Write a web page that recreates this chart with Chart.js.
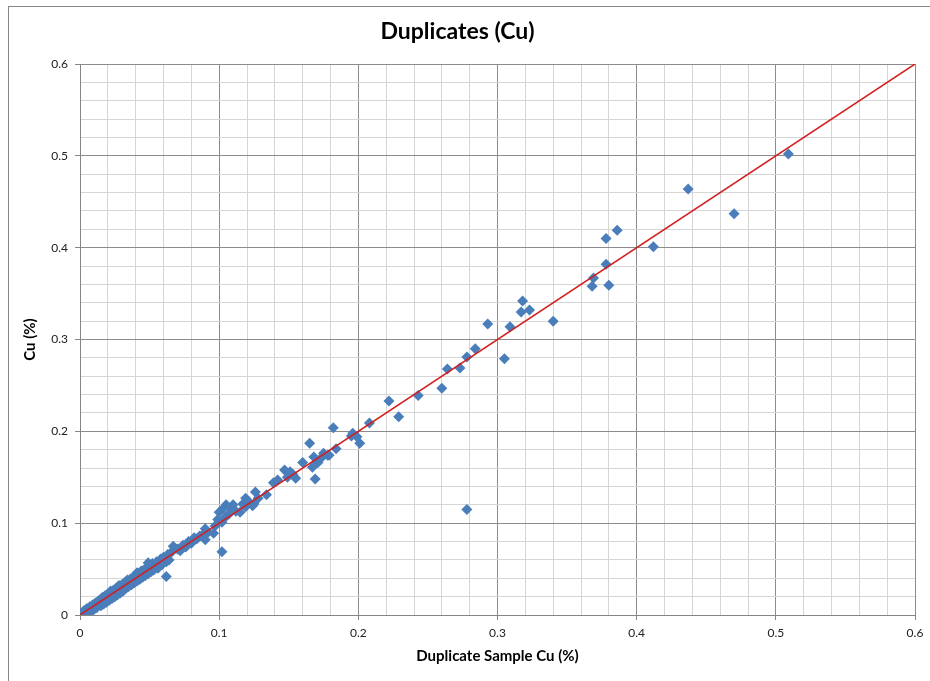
<!DOCTYPE html>
<html lang="en">

<head>
    <meta charset="UTF-8">
    <title>Duplicates (Cu)</title>
    <script src="https://cdn.jsdelivr.net/npm/chart.js@4"></script>
    <style>
        body {
            margin: 0;
            padding: 0;
            background-color: #fff;
        }

        .wrap {
            position: relative;
            width: 930px;
            height: 681px;
            overflow: hidden;
        }

        .frame {
            position: absolute;
            left: 8px;
            top: 6px;
            width: 1000px;
            height: 1000px;
            border-left: 1px solid #868686;
            border-top: 1px solid #868686;
        }

        canvas {
            position: absolute;
            left: 0;
            top: 0;
        }
    </style>
</head>

<body>
    <div class="wrap">
        <div class="frame"></div>
        <canvas id="dupChart" width="930" height="681"></canvas>
    </div>

    <script>
        // Duplicate sample Cu (%) on x, original Cu (%) on y
        const dupCu = [
            0.000, 0.002, 0.003, 0.004, 0.005, 0.006, 0.007, 0.008, 0.009, 0.010,
            0.011, 0.012, 0.013, 0.014, 0.015, 0.016, 0.017, 0.018, 0.019, 0.020,
            0.021, 0.022, 0.023, 0.024, 0.025, 0.026, 0.027, 0.028, 0.029, 0.030,
            0.031, 0.032, 0.033, 0.034, 0.035, 0.036, 0.037, 0.038, 0.039, 0.040,
            0.041, 0.042, 0.043, 0.044, 0.045, 0.046, 0.047, 0.048, 0.049, 0.050,
            0.051, 0.052, 0.053, 0.054, 0.055, 0.056, 0.058, 0.059, 0.060, 0.062,
            0.063, 0.064, 0.066, 0.067, 0.041, 0.049, 0.045, 0.037, 0.062,
            0.070, 0.072, 0.074, 0.076, 0.078, 0.080, 0.082, 0.084, 0.086, 0.088,
            0.090, 0.090, 0.092, 0.096, 0.097, 0.099, 0.100, 0.102, 0.103, 0.105,
            0.104, 0.107, 0.109, 0.110, 0.112, 0.115, 0.117, 0.119, 0.119, 0.121,
            0.124, 0.125, 0.126, 0.128, 0.102, 0.134, 0.139, 0.142, 0.147, 0.149,
            0.151, 0.153, 0.155, 0.160, 0.165, 0.167, 0.168, 0.169, 0.171, 0.174,
            0.175, 0.178, 0.179, 0.182, 0.184, 0.196, 0.199, 0.201, 0.195, 0.208,
            0.222, 0.229, 0.243, 0.260, 0.264, 0.273, 0.278, 0.284, 0.278, 0.293,
            0.305, 0.309, 0.317, 0.318, 0.323, 0.340, 0.368, 0.369, 0.378, 0.378,
            0.380, 0.386, 0.412, 0.437, 0.470, 0.509
        ];
        const origCu = [
            0.001, 0.003, 0.005, 0.001, 0.007, 0.003, 0.009, 0.004, 0.011, 0.006,
            0.013, 0.008, 0.015, 0.016, 0.010, 0.019, 0.012, 0.021, 0.014, 0.023,
            0.016, 0.026, 0.018, 0.027, 0.020, 0.029, 0.022, 0.032, 0.024, 0.033,
            0.026, 0.035, 0.029, 0.038, 0.031, 0.039, 0.033, 0.041, 0.035, 0.043,
            0.037, 0.045, 0.039, 0.048, 0.041, 0.049, 0.043, 0.052, 0.045, 0.054,
            0.047, 0.056, 0.049, 0.052, 0.058, 0.051, 0.061, 0.055, 0.063, 0.058,
            0.066, 0.060, 0.069, 0.075, 0.046, 0.057, 0.047, 0.035, 0.042,
            0.072, 0.070, 0.076, 0.074, 0.080, 0.078, 0.084, 0.083, 0.086, 0.087,
            0.094, 0.082, 0.090, 0.089, 0.097, 0.104, 0.112, 0.101, 0.116, 0.120,
            0.106, 0.110, 0.116, 0.120, 0.113, 0.112, 0.121, 0.127, 0.118, 0.124,
            0.119, 0.121, 0.134, 0.127, 0.069, 0.131, 0.144, 0.147, 0.158, 0.150,
            0.156, 0.153, 0.149, 0.166, 0.187, 0.161, 0.172, 0.148, 0.166, 0.172,
            0.176, 0.174, 0.174, 0.204, 0.181, 0.198, 0.194, 0.187, 0.195, 0.209,
            0.233, 0.216, 0.239, 0.247, 0.268, 0.269, 0.281, 0.290, 0.115, 0.317,
            0.279, 0.314, 0.330, 0.342, 0.332, 0.320, 0.358, 0.367, 0.410, 0.382,
            0.359, 0.419, 0.401, 0.464, 0.437, 0.502
        ];
        // 1:1 reference line
        const refLineX = [0, 0.6];
        const refLineY = [0, 0.6];

        const axisMin = 0;
        const axisMax = 0.6;
        const minorStep = 0.02;

        function isMajor(v) {
            return Math.abs(v * 10 - Math.round(v * 10)) < 1e-6;
        }

        function tickLabel(v) {
            if (!isMajor(v)) return '';
            return v === 0 ? '0' : (Math.round(v * 10) / 10).toFixed(1);
        }

        function gridColor(ctx) {
            return ctx.tick && isMajor(ctx.tick.value) ? '#8c8c8c' : '#d6d6d6';
        }

        // only the major ticks get a little mark outside the axis
        function tickMarkColor(ctx) {
            return ctx.tick && isMajor(ctx.tick.value) ? '#868686' : 'rgba(0,0,0,0)';
        }

        const points = dupCu.map((x, i) => ({ x: x, y: origCu[i] }));
        const refLine = refLineX.map((x, i) => ({ x: x, y: refLineY[i] }));

        const tickFont = { family: 'Lato', size: 12 };
        const titleFont = { family: 'Lato', size: 15, weight: 'bold' };

        const ctx = document.getElementById('dupChart').getContext('2d');
        const chart = new Chart(ctx, {
            type: 'scatter',
            data: {
                datasets: [{
                    label: '1:1',
                    data: refLine,
                    showLine: true,
                    borderColor: '#d21f1f',
                    borderWidth: 1.5,
                    pointRadius: 0,
                    order: 0,
                }, {
                    label: 'Cu',
                    data: points,
                    pointStyle: 'rectRot',
                    pointRadius: 5.5,
                    pointBackgroundColor: '#4a7ebb',
                    pointBorderWidth: 0,
                    order: 1,
                }],
            },
            options: {
                responsive: false,
                animation: false,
                layout: {
                    autoPadding: false,
                    padding: { left: 0, right: 15, top: 0, bottom: 0 },
                },
                plugins: {
                    legend: { display: false },
                    tooltip: { enabled: false },
                    title: {
                        display: true,
                        text: 'Duplicates (Cu)',
                        color: '#000',
                        font: { family: 'Lato', size: 23, weight: 'bold' },
                        padding: { top: 18.2, bottom: 18.2 },
                    },
                },
                scales: {
                    x: {
                        type: 'linear',
                        min: axisMin,
                        max: axisMax,
                        afterFit: (scale) => {
                            scale.height = 66;
                            scale.paddingLeft = 0;
                            scale.paddingRight = 0;
                        },
                        ticks: {
                            stepSize: minorStep,
                            autoSkip: false,
                            maxRotation: 0,
                            padding: 6,
                            color: '#222',
                            font: tickFont,
                            callback: tickLabel,
                        },
                        grid: { color: gridColor, tickColor: tickMarkColor, tickLength: 5 },
                        border: { color: '#868686' },
                        title: {
                            display: true,
                            text: 'Duplicate Sample Cu (%)',
                            color: '#000',
                            font: titleFont,
                            padding: { top: 4, bottom: 16 },
                        },
                    },
                    y: {
                        type: 'linear',
                        min: axisMin,
                        max: axisMax,
                        afterFit: (scale) => {
                            scale.width = 80;
                            scale.paddingTop = 0;
                            scale.paddingBottom = 0;
                        },
                        ticks: {
                            stepSize: minorStep,
                            autoSkip: false,
                            padding: 7,
                            color: '#222',
                            font: tickFont,
                            callback: tickLabel,
                        },
                        grid: { color: gridColor, tickColor: tickMarkColor, tickLength: 5 },
                        border: { color: '#868686' },
                        title: {
                            display: true,
                            text: 'Cu (%)',
                            color: '#000',
                            font: titleFont,
                            padding: { top: 21, bottom: 4 },
                        },
                    },
                },
            },
        });
    </script>
</body>

</html>
